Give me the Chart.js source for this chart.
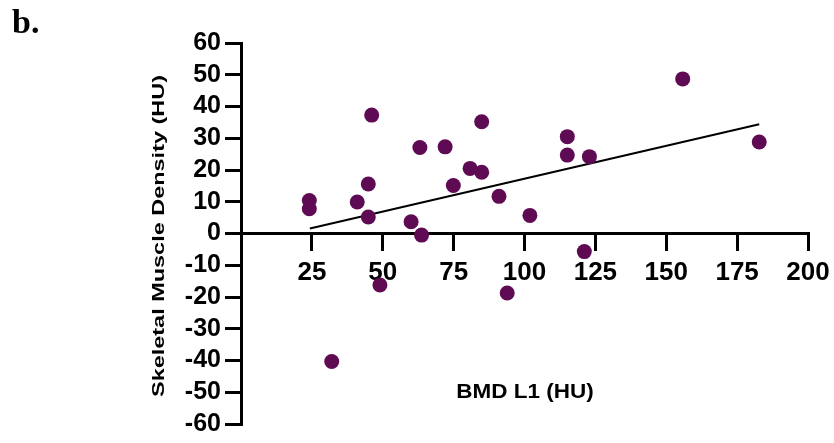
<!DOCTYPE html>
<html><head><meta charset="utf-8">
<script src="https://cdn.jsdelivr.net/npm/chart.js@4.4.0/dist/chart.umd.min.js"></script>
<style>html,body{margin:0;padding:0;background:#fff;}canvas{display:block;}</style>
</head><body>
<canvas id="c" width="834" height="443"></canvas>
<script>
const panelLabel = 'b.';
const xTitle = 'BMD L1 (HU)';
const yTitle = 'Skeletal Muscle Density (HU)';
const bmdL1 = [24.1, 24.1, 46.1, 44.9, 41.0, 44.9, 60.0, 63.1, 72.0, 84.9, 80.8, 84.9, 74.9, 91.0, 101.9, 115.1, 115.1, 122.9, 155.8, 182.8, 121.1, 93.9, 32.0, 49.0, 63.7];
const muscleDensity = [10.4, 7.8, 37.3, 15.6, 9.9, 5.2, 3.7, 27.1, 27.3, 35.2, 20.5, 19.3, 15.1, 11.7, 5.7, 30.5, 24.7, 24.2, 48.7, 28.8, -5.7, -18.75, -40.3, -16.2, -0.5];
const fitX = [24.3, 182.8];
const fitY = [1.6, 34.4];
const xTicks = [25, 50, 75, 100, 125, 150, 175, 200];
const yTicks = [-60, -50, -40, -30, -20, -10, 0, 10, 20, 30, 40, 50, 60];

const pointColor = '#5f0b53';
const xTickFont = {family: "'Liberation Sans', Arial, sans-serif", size: 26, weight: 'bold'};
const yTickFont = {family: "'Liberation Sans', Arial, sans-serif", size: 25, weight: 'bold'};

const textPlugin = {
  id: 'texts',
  afterDraw(chart) {
    const ctx = chart.ctx;
    ctx.save();
    ctx.fillStyle = '#000';
    ctx.font = "bold 34px 'Liberation Serif', 'Times New Roman', serif";
    ctx.textAlign = 'left';
    ctx.textBaseline = 'alphabetic';
    ctx.fillText(panelLabel, 12, 33);
    ctx.font = "bold 21px 'Liberation Sans', Arial, sans-serif";
    ctx.textAlign = 'center';
    ctx.save();
    ctx.translate(525, 398);
    ctx.scale(1.07, 1);
    ctx.fillText(xTitle, 0, 0);
    ctx.restore();
    ctx.font = "bold 17px 'Liberation Sans', Arial, sans-serif";
    ctx.save();
    ctx.translate(164, 236);
    ctx.rotate(-Math.PI / 2);
    ctx.scale(1.38, 1);
    ctx.textAlign = 'center';
    ctx.fillText(yTitle, 0, 0);
    ctx.restore();
    ctx.restore();
  }
};

new Chart(document.getElementById('c'), {
  type: 'scatter',
  data: {
    datasets: [
      {
        type: 'scatter',
        data: bmdL1.map((x, i) => ({x, y: muscleDensity[i]})),
        backgroundColor: pointColor,
        borderColor: pointColor,
        borderWidth: 0,
        pointRadius: 7.5,
        pointHoverRadius: 7.5
      },
      {
        type: 'line',
        data: fitX.map((x, i) => ({x, y: fitY[i]})),
        borderColor: '#000',
        borderWidth: 2,
        pointRadius: 0,
        fill: false
      }
    ]
  },
  options: {
    responsive: false,
    devicePixelRatio: 1,
    animation: false,
    layout: {padding: {top: 43, right: 26, bottom: 16, left: 0}},
    plugins: {legend: {display: false}, tooltip: {enabled: false}},
    scales: {
      x: {
        type: 'linear',
        min: 0, max: 200,
        position: {y: 0},
        afterBuildTicks(scale) { scale.ticks = xTicks.map(v => ({value: v})); },
        afterFit(scale) { scale.paddingRight = 0; scale.paddingLeft = 0; },
        border: {display: true, color: '#000', width: 3},
        grid: {display: true, drawOnChartArea: false, drawTicks: true, tickLength: 16, tickWidth: 3, tickColor: '#000', color: '#000', lineWidth: 3},
        ticks: {font: xTickFont, color: '#000', padding: 8, maxRotation: 0, autoSkip: false}
      },
      y: {
        type: 'linear',
        min: -60, max: 60,
        position: 'left',
        afterBuildTicks(scale) { scale.ticks = yTicks.map(v => ({value: v})); },
        afterFit(scale) { scale.width = 241; },
        border: {display: true, color: '#000', width: 3},
        grid: {display: true, drawOnChartArea: false, drawTicks: true, tickLength: 16, tickWidth: 3, tickColor: '#000', color: '#000', lineWidth: 3},
        ticks: {font: yTickFont, color: '#000', padding: 4, autoSkip: false}
      }
    }
  },
  plugins: [textPlugin]
});
</script>
</body></html>
